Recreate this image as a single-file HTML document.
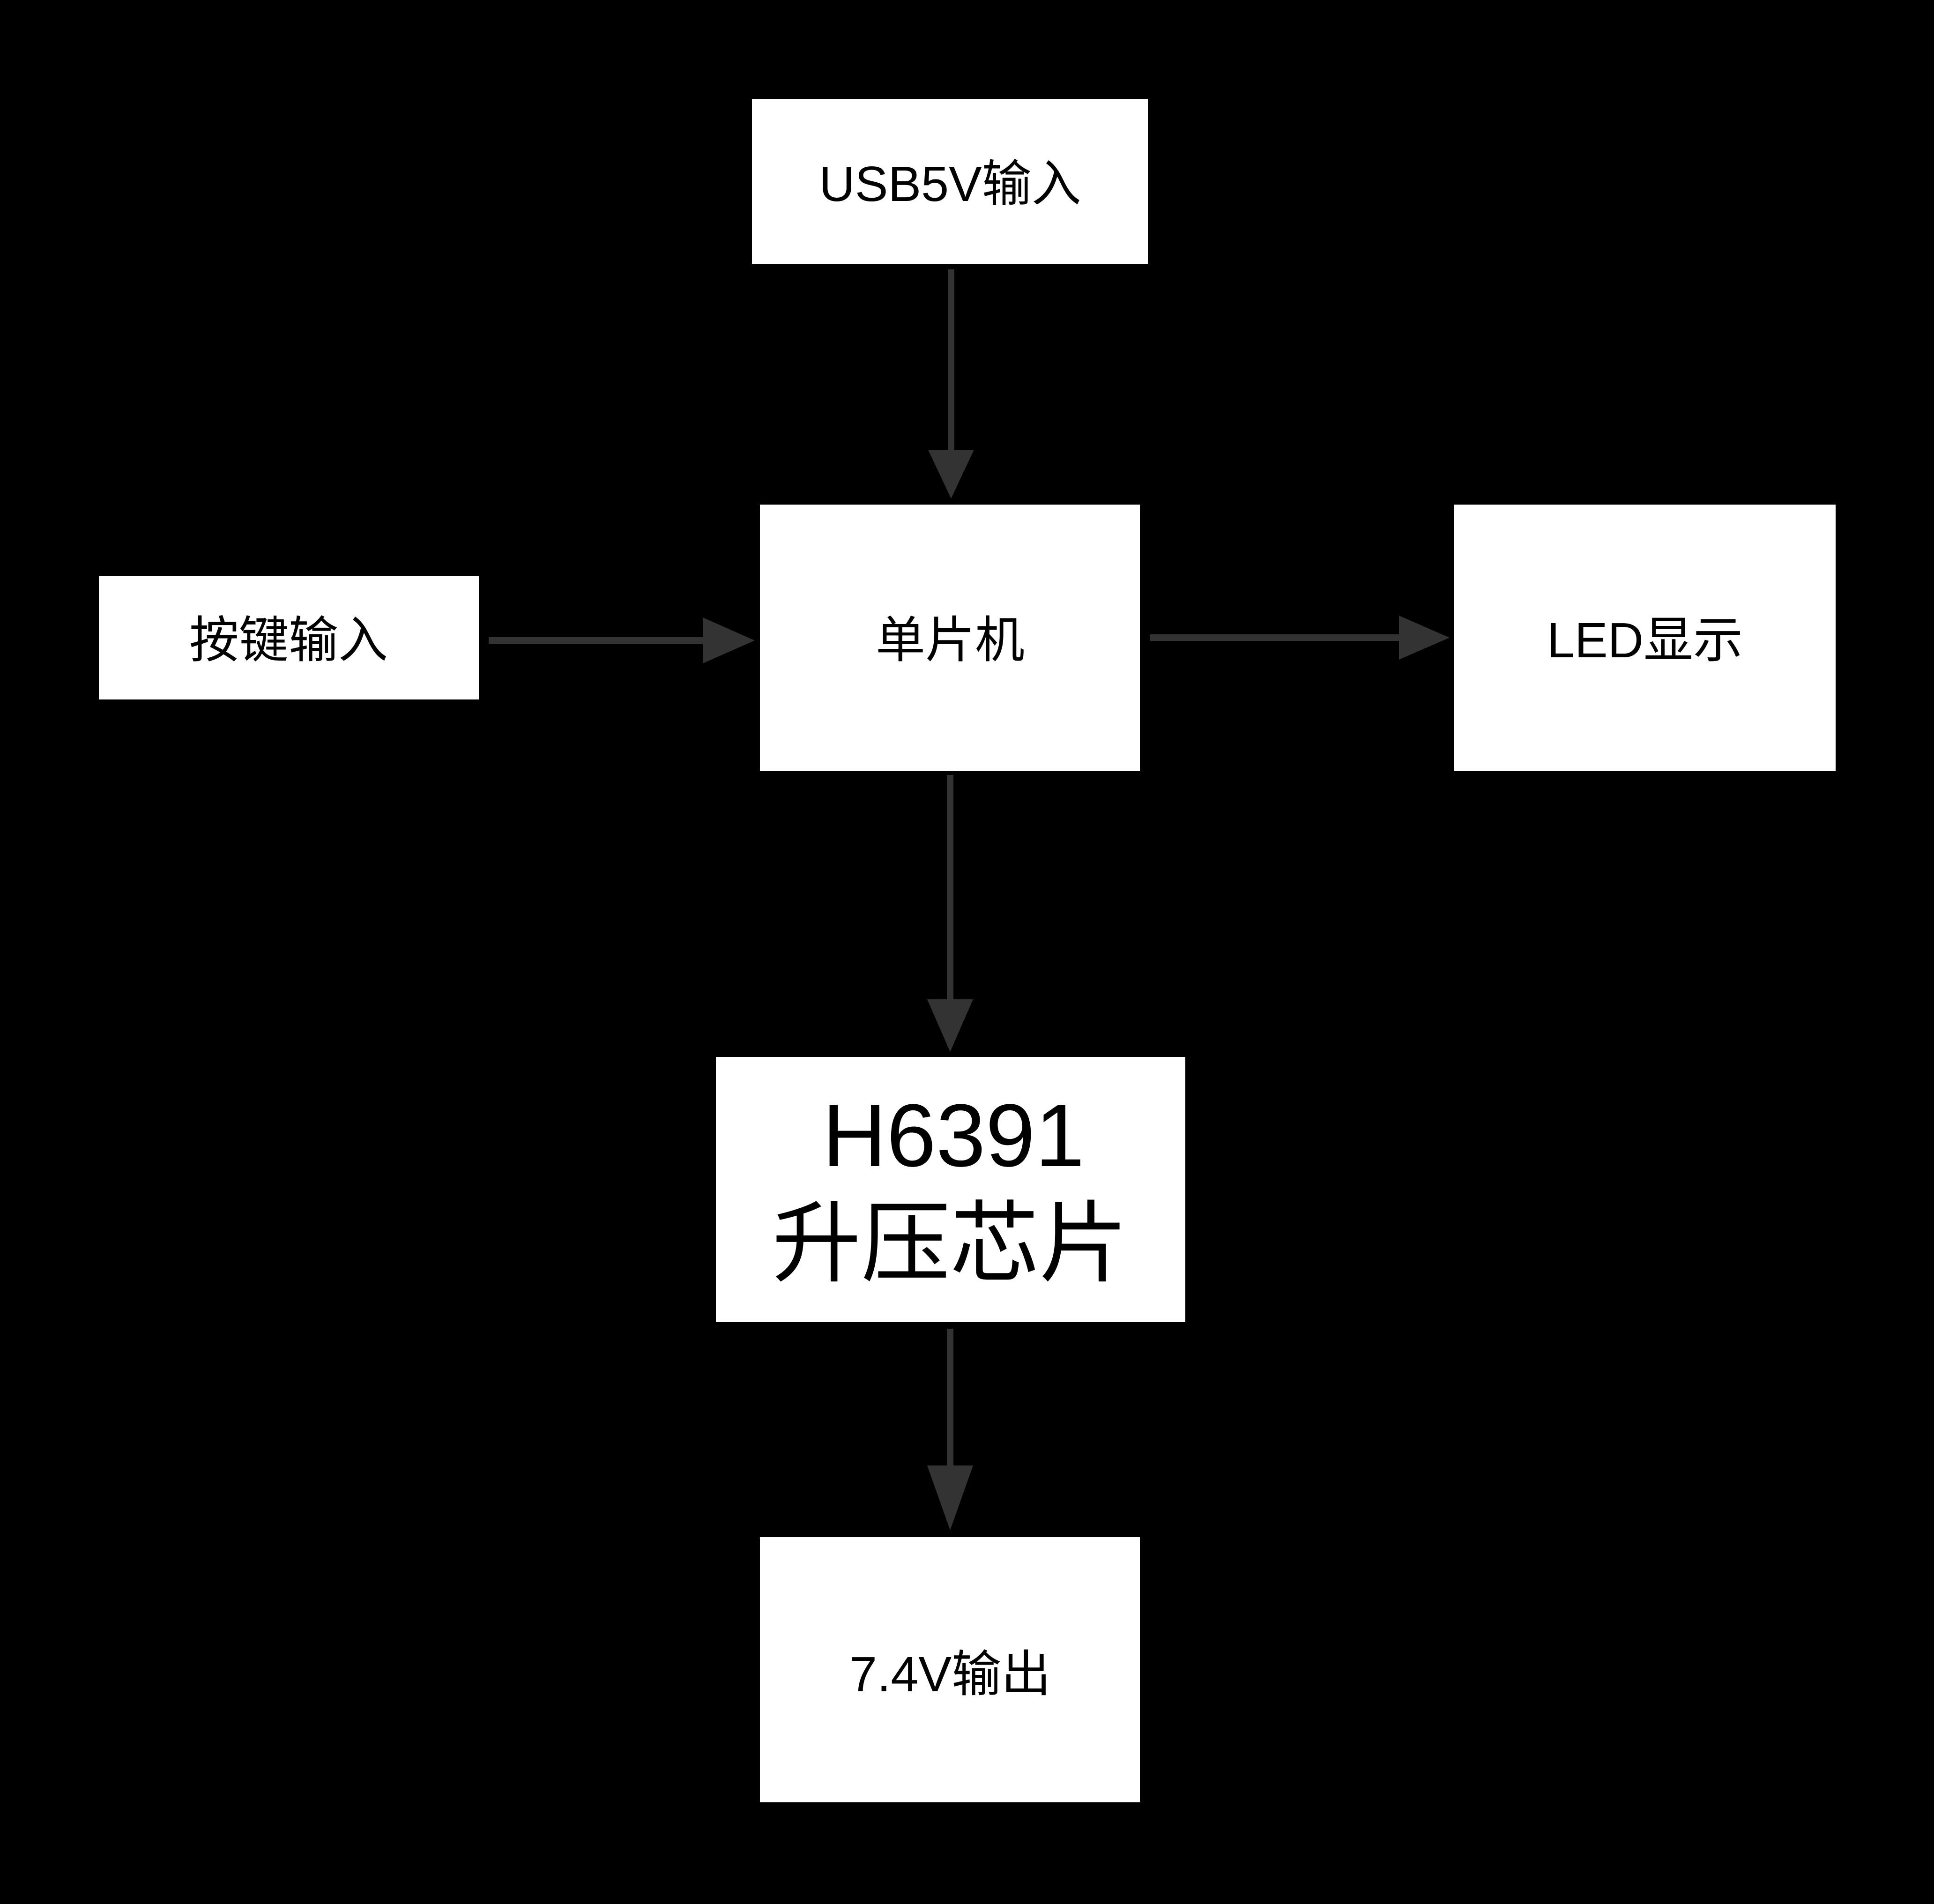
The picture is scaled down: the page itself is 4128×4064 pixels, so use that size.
<!DOCTYPE html>
<html><head><meta charset="utf-8"><style>
html,body{margin:0;padding:0;background:#000;}
svg{display:block}
text{font-family:"Liberation Sans","Noto Sans CJK SC",sans-serif;fill:#000;text-anchor:middle;dominant-baseline:central;}
</style></head><body>
<svg width="4128" height="4064" viewBox="0 0 4128 4064" xmlns="http://www.w3.org/2000/svg">
<rect x="0" y="0" width="4128" height="4064" fill="#000"/>
<g fill="#fff">
<rect x="1605" y="211" width="845" height="352"/>
<rect x="1622" y="1077" width="811" height="569"/>
<rect x="211" y="1230" width="811" height="263"/>
<rect x="3104" y="1077" width="814" height="569"/>
<rect x="1528" y="2256" width="1002" height="566"/>
<rect x="1622" y="3281" width="811" height="566"/>
</g>
<g stroke="#333" stroke-width="14" fill="none">
<line x1="2030" y1="575" x2="2030" y2="965"/>
<line x1="2028" y1="1654" x2="2028" y2="2140"/>
<line x1="2028" y1="2836" x2="2028" y2="3135"/>
<line x1="1043" y1="1367" x2="1505" y2="1367"/>
<line x1="2454" y1="1361" x2="2990" y2="1361"/>
</g>
<g fill="#333">
<polygon points="1981,960 2079,960 2030,1064"/>
<polygon points="1979,2133 2077,2133 2028,2245"/>
<polygon points="1979,3128 2077,3128 2028,3266"/>
<polygon points="1500,1318 1500,1416 1611,1367"/>
<polygon points="2986,1314 2986,1408 3094,1361"/>
</g>
<text x="2028" y="393" font-size="106">USB5V输入</text>
<text x="2028" y="1367" font-size="106">单片机</text>
<text x="616" y="1367" font-size="106">按键输入</text>
<text x="3511" y="1367" font-size="106">LED显示</text>
<text x="2035" y="2424" font-size="190">H6391</text>
<text x="2028" y="2655" font-size="190">升压芯片</text>
<text x="2028" y="3574" font-size="106">7.4V输出</text>
</svg>
</body></html>
